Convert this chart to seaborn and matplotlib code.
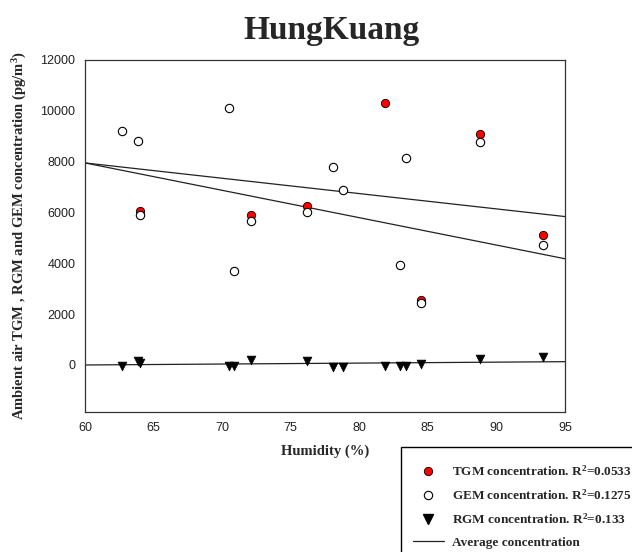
import matplotlib
matplotlib.use("Agg")
import matplotlib.pyplot as plt
import seaborn as sns
import pandas as pd
from matplotlib.patches import Rectangle

# values
gem_humidity = [62.7, 63.9, 64.0, 70.5, 70.9, 72.1, 76.2, 78.1, 78.8, 83.0, 83.4, 84.5, 88.8, 93.4]
gem_conc = [9200, 8800, 5920, 10130, 3700, 5660, 6030, 7780, 6870, 3935, 8160, 2430, 8760, 4740]

tgm_humidity = [64.0, 72.1, 76.2, 81.9, 84.5, 88.8, 93.4]
tgm_conc = [6050, 5900, 6240, 10300, 2560, 9070, 5120]

rgm_humidity = [62.7, 63.9, 64.0, 70.5, 70.9, 72.1, 76.2, 78.1, 78.8, 81.9, 83.0, 83.4, 84.5, 88.8, 93.4]
rgm_conc = [-40, 150, 60, -40, -40, 200, 160, -60, -60, -40, -40, -40, 40, 250, 330]

trend_x = [60, 95]
tgm_trend = [7950, 5840]
gem_trend = [7950, 4180]
rgm_trend = [0, 130]

x_ticks = [60, 65, 70, 75, 80, 85, 90, 95]
y_ticks = [0, 2000, 4000, 6000, 8000, 10000, 12000]

legend_labels = ["TGM concentration. R$^{2}$=0.0533",
                 "GEM concentration. R$^{2}$=0.1275",
                 "RGM concentration. R$^{2}$=0.133",
                 "Average concentration"]

sns.set_style("white")
plt.rcParams["font.family"] = ["Liberation Sans", "DejaVu Sans"]
plt.rcParams["mathtext.fontset"] = "custom"
plt.rcParams["mathtext.rm"] = "Liberation Serif:bold"
plt.rcParams["mathtext.it"] = "Liberation Serif:bold"
plt.rcParams["mathtext.bf"] = "Liberation Serif:bold"

serif = ["Liberation Serif", "DejaVu Serif"]

tgm = pd.DataFrame({"humidity": tgm_humidity, "conc": tgm_conc})
gem = pd.DataFrame({"humidity": gem_humidity, "conc": gem_conc})
rgm = pd.DataFrame({"humidity": rgm_humidity, "conc": rgm_conc})

fig = plt.figure(figsize=(6.32, 5.52), dpi=100)
ax = fig.add_axes([85 / 632, 1 - 412 / 552, 480 / 632, 352 / 552])

# trend lines
ax.plot(trend_x, tgm_trend, color="#222222", lw=0.9, zorder=1)
ax.plot(trend_x, gem_trend, color="#222222", lw=0.9, zorder=1)
ax.plot(trend_x, rgm_trend, color="#222222", lw=0.9, zorder=1)

sns.scatterplot(data=tgm, x="humidity", y="conc", ax=ax, color="red",
                edgecolor="black", linewidth=0.6, s=36, marker="o", zorder=2)
sns.scatterplot(data=gem, x="humidity", y="conc", ax=ax, color="white",
                edgecolor="black", linewidth=0.8, s=36, marker="o", zorder=3)
sns.scatterplot(data=rgm, x="humidity", y="conc", ax=ax, color="black",
                edgecolor="black", linewidth=0.5, s=40, marker="v", zorder=3)

ax.set_xlim(60, 95)
ax.set_ylim(-1850, 12000)
ax.set_xticks(x_ticks)
ax.set_yticks(y_ticks)
ax.tick_params(axis="both", direction="out", length=4, width=0.8,
               labelsize=9, colors="black", pad=3)
for lbl in ax.get_xticklabels() + ax.get_yticklabels():
    lbl.set_color("#222222")
for sp in ax.spines.values():
    sp.set_color("#333333")
    sp.set_linewidth(0.9)

ax.set_xlabel("Humidity (%)", fontfamily=serif, fontweight="bold", fontsize=10.5, labelpad=8)
ax.set_ylabel("Ambient air TGM , RGM and GEM concentration (pg/m$^{3}$)",
              fontfamily=serif, fontweight="bold", fontsize=10.5, labelpad=8)
fig.text(331 / 632, 1 - 30 / 552, "HungKuang", ha="center", va="center",
         fontfamily=serif, fontweight="bold", fontsize=24)

# legend box overflowing bottom right corner like the reference
fig.patches.append(Rectangle((401 / 632, -0.05), 0.5, (552 - 447) / 552 + 0.05,
                             transform=fig.transFigure, facecolor="white",
                             edgecolor="black", linewidth=1.0))

handles = [
    plt.Line2D([], [], ls="", marker="o", color="red", mec="black", mew=0.6, ms=6),
    plt.Line2D([], [], ls="", marker="o", color="white", mec="black", mew=0.8, ms=6),
    plt.Line2D([], [], ls="", marker="v", color="black", ms=7),
    plt.Line2D([], [], color="#222222", lw=0.9),
]
leg = fig.legend(handles, legend_labels, loc="upper left",
                 bbox_to_anchor=(408 / 632, 1 - 459 / 552), frameon=False,
                 prop={"family": serif, "weight": "bold", "size": 9.5},
                 handlelength=2.3, handletextpad=0.6, labelspacing=0.72,
                 borderaxespad=0)

fig.savefig("out.png", dpi=100)
